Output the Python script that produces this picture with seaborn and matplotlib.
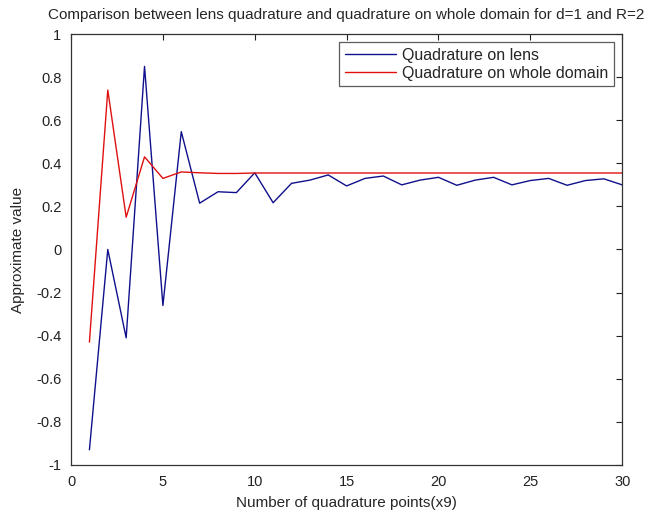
import numpy as np
import pandas as pd
import matplotlib
matplotlib.use("Agg")
import matplotlib.pyplot as plt
import seaborn as sns

# Number of quadrature points (in multiples of 9)
n_points = list(range(1, 31))

# Approximate integral values from the lens quadrature
lens_values = [-0.93, 0.00, -0.41, 0.85, -0.26, 0.547, 0.215, 0.268, 0.264, 0.356,
               0.217, 0.307, 0.322, 0.346, 0.295, 0.330, 0.341, 0.300, 0.322, 0.335,
               0.298, 0.322, 0.335, 0.300, 0.320, 0.330, 0.298, 0.320, 0.328, 0.300]

# Approximate integral values from the quadrature on the whole domain
whole_values = [-0.43, 0.74, 0.15, 0.43, 0.33, 0.36, 0.356, 0.353, 0.353, 0.355,
                0.355, 0.355, 0.355, 0.355, 0.355, 0.355, 0.355, 0.355, 0.355, 0.355,
                0.355, 0.355, 0.355, 0.355, 0.355, 0.355, 0.355, 0.355, 0.355, 0.355]

series_names = ["Quadrature on lens", "Quadrature on whole domain"]
x_ticks = [0, 5, 10, 15, 20, 25, 30]
y_ticks = [-1, -0.8, -0.6, -0.4, -0.2, 0, 0.2, 0.4, 0.6, 0.8, 1]
y_tick_labels = ["-1", "-0.8", "-0.6", "-0.4", "-0.2", "0", "0.2", "0.4", "0.6", "0.8", "1"]

df = pd.DataFrame({
    "n": n_points * 2,
    "value": lens_values + whole_values,
    "method": [series_names[0]] * len(n_points) + [series_names[1]] * len(n_points),
})

sns.set_style("white")
plt.rcParams["font.family"] = ["Liberation Sans", "DejaVu Sans"]
plt.rcParams["xtick.direction"] = "in"
plt.rcParams["ytick.direction"] = "in"

fig = plt.figure(figsize=(6.64, 5.16), dpi=100)
ax = fig.add_axes([0.107, 0.099, 0.830, 0.835])

sns.lineplot(data=df, x="n", y="value", hue="method",
             palette={series_names[0]: "#10108c", series_names[1]: "#e01010"},
             linewidth=1.0, ax=ax)

ax.set_xlim(0, 30)
ax.set_ylim(-1, 1)
ax.set_xticks(x_ticks)
ax.set_xticklabels([str(t) for t in x_ticks])
ax.set_yticks(y_ticks)
ax.set_yticklabels(y_tick_labels)
ax.tick_params(axis="both", which="both", labelsize=10.5, length=4, width=0.8,
               top=True, right=True, colors="#222222", labelcolor="#222222", pad=7)
for spine in ax.spines.values():
    spine.set_visible(True)
    spine.set_color("#333333")
    spine.set_linewidth(0.9)

ax.set_xlabel("Number of quadrature points(x9)", fontsize=11, labelpad=5)
ax.set_ylabel("Approximate value", fontsize=11, labelpad=8)
ax.set_title("Comparison between lens quadrature and quadrature on whole domain for d=1 and R=2",
             fontsize=11, pad=11)

leg = ax.legend(loc="upper right", fontsize=11.5, frameon=True, fancybox=False,
                edgecolor="#333333", handlelength=3.2, borderaxespad=0.5,
                borderpad=0.35, labelspacing=0.2, handletextpad=0.4)
leg.get_frame().set_linewidth(0.9)
leg.set_title(None)

fig.savefig("out.png", dpi=100)
